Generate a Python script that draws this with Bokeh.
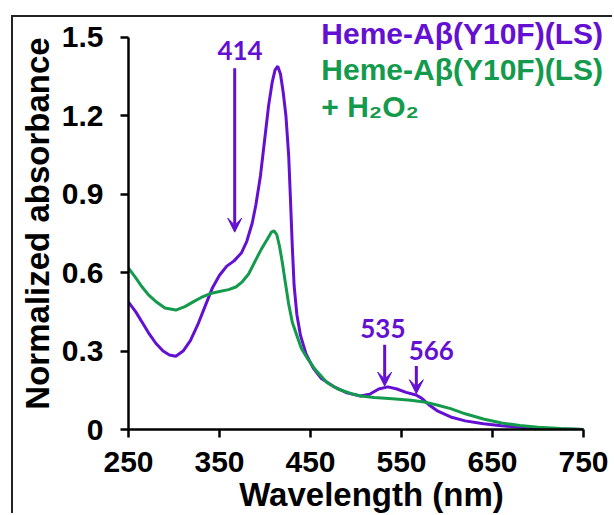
from bokeh.plotting import figure
from bokeh.models import Label, Arrow, VeeHead, FixedTicker
from bokeh.embed import file_html
from bokeh.resources import INLINE

# ---- data ----
wl_purple = [250, 258, 265, 272, 280, 288, 295, 302, 310, 318, 326, 334, 342, 350,
             358, 366, 374, 380, 386, 390, 395, 400, 404, 408, 411, 414, 417, 420,
             423, 426, 428, 430, 432, 435, 439, 445, 453, 462, 475, 490, 505, 515,
             525, 535, 545, 555, 566, 572, 580, 590, 604, 620, 640, 660, 680, 700,
             725, 750]
abs_purple = [0.487, 0.45, 0.41, 0.37, 0.33, 0.30, 0.285, 0.28, 0.30, 0.34, 0.40, 0.47,
              0.54, 0.59, 0.625, 0.645, 0.675, 0.72, 0.79, 0.86, 0.97, 1.12, 1.24, 1.33,
              1.375, 1.39, 1.36, 1.29, 1.20, 1.05, 0.88, 0.70, 0.55, 0.44, 0.36, 0.29,
              0.235, 0.195, 0.165, 0.14, 0.128, 0.135, 0.155, 0.163, 0.155, 0.142, 0.132,
              0.12, 0.095, 0.07, 0.048, 0.033, 0.022, 0.014, 0.009, 0.005, 0.002, 0.0]

wl_green = [250, 258, 265, 272, 280, 290, 302, 312, 322, 330, 340, 350, 360, 368, 375,
            382, 390, 396, 402, 407, 410, 413, 416, 419, 422, 426, 430, 435, 440, 447,
            455, 468, 480, 495, 505, 520, 540, 560, 575, 590, 604, 620, 640, 660, 680,
            700, 725, 750]
abs_green = [0.617, 0.58, 0.545, 0.515, 0.49, 0.465, 0.457, 0.47, 0.49, 0.505, 0.52,
             0.528, 0.535, 0.545, 0.565, 0.595, 0.65, 0.69, 0.725, 0.755, 0.76, 0.745,
             0.70, 0.64, 0.57, 0.48, 0.41, 0.36, 0.31, 0.27, 0.23, 0.18, 0.155, 0.137,
             0.128, 0.122, 0.118, 0.112, 0.105, 0.093, 0.08, 0.06, 0.04, 0.025, 0.015,
             0.009, 0.004, 0.0]

x_ticks = [250, 350, 450, 550, 650, 750]
y_ticks = [0, 0.3, 0.6, 0.9, 1.2, 1.5]
y_tick_labels = ["0", "0.3", "0.6", "0.9", "1.2", "1.5"]

legend_lines = ["Heme-A\u03b2(Y10F)(LS)", "Heme-A\u03b2(Y10F)(LS)", "+ H\u2082O\u2082"]

peak_labels = ["414", "535", "566"]
peak_label_x = [372.6, 529.5, 582.7]
peak_label_y = [1.448, 0.388, 0.301]
arrow_x = [366.7, 531.5, 566.3]
arrow_y_start = [1.382, 0.324, 0.2425]
arrow_y_end = [0.755, 0.166, 0.137]

# ---- styling ----
PURPLE = "#6410D2"
GREEN = "#149A4C"
FONT = "Liberation Sans"

p = figure(width=601, height=498, x_range=(250, 784.07), y_range=(0, 1.5761),
           output_backend="svg", toolbar_location=None,
           min_border_left=115, min_border_right=0, min_border_top=0,
           min_border_bottom=84)
p.margin = (15, 0, 0, 11)
p.styles = {"border-top": "2px solid #222222", "border-left": "2px solid #222222"}
p.outline_line_color = None
p.xgrid.visible = False
p.ygrid.visible = False
p.background_fill_color = "white"
p.border_fill_color = "white"

p.line(wl_purple, abs_purple, line_color=PURPLE, line_width=3)
p.line(wl_green, abs_green, line_color=GREEN, line_width=3)

for ax in (p.xaxis[0], p.yaxis[0]):
    ax.axis_line_width = 2.5
    ax.axis_line_color = "black"
    ax.major_tick_line_width = 2.5
    ax.major_tick_line_color = "black"
    ax.major_tick_out = 8
    ax.major_tick_in = 0
    ax.minor_tick_line_color = None
    ax.major_label_text_font = FONT
    ax.major_label_text_font_style = "bold"
    ax.major_label_text_font_size = "30px"
    ax.major_label_text_color = "black"
    ax.axis_label_text_font = FONT
    ax.axis_label_text_font_style = "bold"
    ax.axis_label_text_font_size = "33px"
    ax.axis_label_text_color = "black"

p.xaxis.bounds = (250, 750)
p.yaxis.bounds = (0, 1.5)
p.xaxis.ticker = FixedTicker(ticks=x_ticks)
p.yaxis.ticker = FixedTicker(ticks=y_ticks)
p.yaxis.major_label_overrides = {t: s for t, s in zip(y_ticks, y_tick_labels)}
p.xaxis.axis_label = "Wavelength (nm)"
p.yaxis.axis_label = "Normalized absorbance"
p.xaxis.major_label_standoff = 14
p.xaxis.axis_label_standoff = 1
p.yaxis.major_label_standoff = 17
p.yaxis.axis_label_standoff = 3

# legend-like colored texts
legend_colors = [PURPLE, GREEN, GREEN]
legend_y = [1.515, 1.378, 1.237]
for txt, col, yy in zip(legend_lines, legend_colors, legend_y):
    p.add_layout(Label(x=461.9, y=yy, text=txt, text_color=col, text_font=FONT,
                       text_font_style="bold", text_font_size="30px",
                       text_baseline="alphabetic", text_align="left"))

# peak annotations
for lab, lx, ly, ax_, y0, y1 in zip(peak_labels, peak_label_x, peak_label_y,
                                    arrow_x, arrow_y_start, arrow_y_end):
    p.add_layout(Label(x=lx, y=ly, text=lab, text_color=PURPLE, text_font="Lato",
                       text_font_style="bold", text_font_size="26px",
                       text_align="center", text_baseline="alphabetic"))
    p.add_layout(Arrow(x_start=ax_, y_start=y0, x_end=ax_, y_end=y1,
                       line_color=PURPLE, line_width=3,
                       end=VeeHead(size=14, fill_color=PURPLE, line_color=PURPLE)))

open("out.html", "w").write(file_html(p, INLINE))
